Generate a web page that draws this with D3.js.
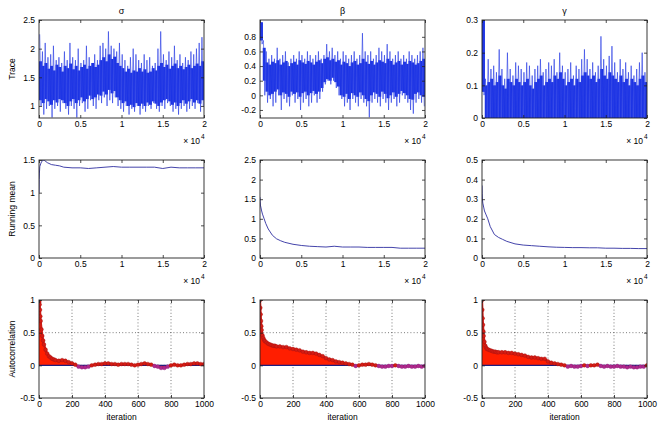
<!DOCTYPE html>
<html>
<head>
<meta charset="utf-8">
<script src="https://cdn.jsdelivr.net/npm/d3@7"></script>
<style>
  body { margin: 0; background: #fff; }
  svg text { font-family: "Liberation Sans", Arial, sans-serif; fill: #000; }
</style>
</head>
<body>
<svg id="chart"></svg>
<script>
const SVG = d3.select('#chart').attr('width', 660).attr('height', 424);

// --- data ---

const titles = ['σ', 'β', 'γ'];
const rowLabels = ['Trace', 'Running mean', 'Autocorrelation'];

// trace: per-bin spike extremes (60 bins over 20000 iterations)
const sigmaHi = [2.25,1.95,2.1,1.85,1.9,2.05,1.8,1.85,1.75,1.95,1.8,2.1,1.85,1.8,2.0,1.75,1.8,2.05,1.85,1.7,1.9,1.8,2.05,2.1,2.0,2.3,2.05,2.0,1.95,2.1,1.9,1.8,1.7,1.85,2.0,1.9,1.8,1.75,1.9,1.8,1.85,1.7,1.75,2.0,2.3,1.9,1.8,1.95,1.85,2.05,1.8,1.9,1.75,1.85,1.8,1.95,1.9,2.0,2.1,2.2];
const sigmaLo = [1.0,0.85,0.95,1.0,0.8,0.95,1.0,0.9,1.05,0.95,0.85,1.0,0.95,0.8,1.0,1.05,0.9,0.95,1.1,1.0,0.95,1.1,1.05,1.15,1.0,1.1,1.05,1.15,1.0,0.95,0.9,1.0,0.85,0.95,0.9,1.0,0.85,0.95,0.9,1.0,0.95,1.05,0.95,0.9,1.0,0.95,1.05,1.0,0.9,0.95,0.85,0.95,1.0,0.9,0.95,1.0,0.95,1.05,0.9,1.0];
const betaHi = [1.0,0.75,0.6,0.5,0.55,0.5,0.65,0.5,0.55,0.6,0.45,0.5,0.55,0.5,0.6,0.55,0.5,0.6,0.55,0.5,0.55,0.6,0.5,0.55,0.7,0.6,0.65,0.55,0.6,0.5,0.6,0.55,0.5,0.55,0.6,0.5,0.55,0.85,0.6,0.55,0.6,0.5,0.55,0.65,0.6,0.55,0.7,0.6,0.5,0.55,0.6,0.5,0.55,0.5,0.6,0.55,0.5,0.55,0.6,0.65];
const betaLo = [0.7,0.0,-0.1,-0.05,-0.15,-0.1,0.0,-0.2,-0.05,-0.1,-0.15,0.0,-0.1,-0.05,-0.2,-0.1,-0.05,-0.15,-0.1,0.0,-0.1,-0.05,0.05,0.15,0.2,0.15,0.2,0.1,0.0,-0.05,-0.15,-0.1,-0.2,-0.05,-0.1,-0.15,-0.05,-0.1,-0.15,-0.3,-0.1,-0.05,-0.1,-0.15,-0.05,-0.1,-0.2,-0.1,-0.05,-0.15,-0.1,0.0,-0.05,-0.1,-0.2,-0.25,-0.1,-0.05,-0.1,-0.15];
const gammaHi = [0.3,0.12,0.18,0.15,0.16,0.14,0.21,0.15,0.12,0.2,0.15,0.13,0.17,0.16,0.15,0.14,0.17,0.16,0.13,0.15,0.16,0.18,0.14,0.15,0.17,0.16,0.18,0.14,0.2,0.16,0.14,0.15,0.17,0.13,0.16,0.15,0.18,0.21,0.18,0.15,0.17,0.14,0.16,0.25,0.18,0.16,0.19,0.22,0.17,0.14,0.18,0.15,0.17,0.14,0.16,0.13,0.15,0.17,0.2,0.14];
const gammaLo = [0.07,0,0,0,0,0,0,0,0,0,0,0,0,0,0,0,0,0,0,0,0,0,0,0,0,0,0,0,0,0,0,0,0,0,0,0,0,0,0,0,0,0,0,0,0,0,0,0,0,0,0,0,0,0,0,0,0,0,0,0];

// trace: dense core band per bin (same 60 bins)
const sigmaCoreHi = [1.78,1.7,1.75,1.65,1.7,1.62,1.72,1.68,1.6,1.7,1.66,1.74,1.64,1.7,1.62,1.68,1.72,1.65,1.7,1.75,1.68,1.72,1.8,1.85,1.78,1.9,1.82,1.86,1.75,1.7,1.66,1.6,1.65,1.58,1.62,1.6,1.66,1.6,1.64,1.58,1.6,1.66,1.62,1.7,1.75,1.68,1.72,1.65,1.7,1.74,1.66,1.7,1.64,1.68,1.72,1.66,1.7,1.74,1.7,1.78];
const sigmaCoreLo = [1.1,1.05,1.12,1.08,1.02,1.1,1.06,1.12,1.1,1.05,1.0,1.08,1.12,1.05,1.1,1.15,1.08,1.12,1.18,1.12,1.15,1.2,1.18,1.25,1.2,1.28,1.22,1.26,1.15,1.1,1.05,1.08,1.0,1.02,0.98,1.05,1.0,1.04,1.0,1.06,1.02,1.08,1.04,1.0,1.06,1.1,1.12,1.08,1.02,1.06,1.0,1.05,1.1,1.04,1.08,1.12,1.06,1.1,1.04,1.1];
const betaCoreHi = [1.0,0.65,0.45,0.42,0.46,0.44,0.48,0.42,0.45,0.47,0.4,0.44,0.46,0.42,0.48,0.45,0.43,0.47,0.45,0.42,0.46,0.48,0.44,0.5,0.52,0.48,0.5,0.46,0.48,0.42,0.46,0.44,0.4,0.45,0.47,0.42,0.44,0.5,0.46,0.43,0.47,0.42,0.45,0.48,0.46,0.44,0.5,0.47,0.42,0.45,0.47,0.42,0.46,0.43,0.47,0.45,0.42,0.44,0.47,0.5];
const betaCoreLo = [0.75,0.2,0.05,0.0,0.02,0.05,0.08,0.0,0.04,0.02,-0.02,0.05,0.02,0.04,-0.02,0.03,0.05,0.0,0.03,0.06,0.02,0.05,0.1,0.18,0.22,0.2,0.24,0.18,0.12,0.0,-0.02,0.02,-0.05,0.03,0.0,-0.02,0.04,0.0,-0.05,-0.08,0.0,0.04,0.02,-0.02,0.05,0.02,-0.04,0.0,0.04,-0.02,0.02,0.06,0.03,0.0,-0.05,-0.06,0.02,0.04,0.0,-0.02];
const gammaCoreHi = [0.3,0.1,0.11,0.12,0.1,0.11,0.13,0.1,0.09,0.12,0.11,0.1,0.12,0.11,0.1,0.11,0.12,0.1,0.09,0.11,0.12,0.13,0.1,0.11,0.12,0.11,0.13,0.12,0.14,0.12,0.1,0.11,0.12,0.1,0.12,0.11,0.13,0.14,0.13,0.12,0.13,0.11,0.12,0.15,0.13,0.12,0.14,0.13,0.12,0.11,0.13,0.11,0.12,0.1,0.12,0.11,0.1,0.12,0.13,0.11];
const gammaCoreLo = [0.08,0,0,0,0,0,0,0,0,0,0,0,0,0,0,0,0,0,0,0,0,0,0,0,0,0,0,0,0,0,0,0,0,0,0,0,0,0,0,0,0,0,0,0,0,0,0,0,0,0,0,0,0,0,0,0,0,0,0,0];

// running mean
const meanIter = [0,20,50,100,200,300,500,700,1000,1500,2000,2500,3000,4000,5000,6000,7000,8000,9000,10000,11000,12000,13000,14000,15000,16000,17000,18000,19000,20000];
const sigmaMean = [1.0,1.2,1.3,1.4,1.44,1.47,1.5,1.49,1.46,1.43,1.42,1.41,1.39,1.38,1.38,1.37,1.38,1.39,1.40,1.39,1.39,1.39,1.39,1.39,1.37,1.39,1.38,1.38,1.38,1.38];
const betaMean = [1.55,1.45,1.35,1.3,1.2,1.12,1.0,0.88,0.74,0.58,0.49,0.44,0.4,0.35,0.32,0.3,0.29,0.28,0.3,0.28,0.28,0.28,0.27,0.27,0.27,0.27,0.25,0.25,0.25,0.25];
const gammaMean = [0.37,0.33,0.3,0.28,0.26,0.24,0.22,0.2,0.16,0.12,0.105,0.095,0.085,0.072,0.066,0.063,0.06,0.057,0.055,0.054,0.053,0.053,0.052,0.052,0.05,0.05,0.049,0.049,0.048,0.048];

// autocorrelation
const lags = [0,2,4,6,8,10,15,20,25,30,40,50,60,70,80,90,100,120,140,160,180,200,220,240,260,280,300,320,340,360,380,400,420,440,460,480,500,520,540,560,580,600,620,640,660,680,700,720,740,760,780,800,820,840,860,880,900,920,940,960,980,1000];
const sigmaAcf = [1.0,0.97,0.93,0.85,0.75,0.68,0.55,0.45,0.38,0.32,0.24,0.18,0.14,0.12,0.1,0.09,0.08,0.07,0.08,0.07,0.05,0.03,0.01,-0.02,-0.03,-0.03,-0.02,0.0,0.01,0.02,0.02,0.03,0.03,0.02,0.02,0.01,0.02,0.02,0.02,0.01,0.0,0.01,0.02,0.03,0.02,0.01,-0.01,-0.02,-0.04,-0.04,-0.02,0.0,0.01,0.0,0.0,0.01,0.02,0.02,0.03,0.03,0.02,0.02];
const betaAcf = [1.0,0.88,0.78,0.68,0.6,0.54,0.46,0.42,0.39,0.37,0.35,0.33,0.32,0.31,0.3,0.3,0.29,0.29,0.28,0.28,0.26,0.25,0.24,0.23,0.21,0.2,0.19,0.19,0.18,0.16,0.14,0.11,0.09,0.08,0.06,0.05,0.04,0.03,0.02,0.01,-0.01,0.0,0.01,0.01,0.02,0.01,0.0,-0.01,-0.02,-0.02,-0.01,-0.01,0.0,-0.01,-0.02,-0.02,-0.01,-0.02,-0.02,-0.01,-0.02,-0.01];
const gammaAcf = [1.0,0.85,0.72,0.62,0.52,0.45,0.36,0.3,0.27,0.25,0.24,0.23,0.22,0.21,0.21,0.2,0.2,0.2,0.2,0.19,0.19,0.18,0.17,0.16,0.15,0.13,0.12,0.12,0.11,0.1,0.1,0.06,0.04,0.03,0.02,0.01,0.0,-0.02,-0.01,-0.02,-0.02,-0.01,0.0,-0.01,0.0,0.0,0.01,-0.01,-0.02,-0.01,-0.02,-0.02,-0.01,-0.02,-0.02,-0.03,-0.02,-0.03,-0.03,-0.02,-0.02,0.0];

// ticks
const iterTicks = [0, 5000, 10000, 15000, 20000];
const lagTicks = [0, 200, 400, 600, 800, 1000];
const traceTicks = [[1, 1.5, 2, 2.5], [-0.2, 0, 0.2, 0.4, 0.6, 0.8], [0, 0.1, 0.2, 0.3]];
const meanTicks = [[0, 0.5, 1, 1.5], [0, 0.5, 1, 1.5, 2, 2.5], [0, 0.1, 0.2, 0.3, 0.4, 0.5]];
const acfTicks = [-0.5, 0, 0.5, 1];
const traceDomains = [[0.79, 2.5], [-0.31, 1.03], [0, 0.3]];
const meanDomains = [[0, 1.5], [0, 2.5], [0, 0.5]];

// ---

const COL_X = [39, 260, 482];
const ROW_Y = [20, 160, 300];
const PW = 165, PH = 98;
const FONT = 8.5;

const traces = [
  { hi: sigmaHi, lo: sigmaLo, coreHi: sigmaCoreHi, coreLo: sigmaCoreLo },
  { hi: betaHi, lo: betaLo, coreHi: betaCoreHi, coreLo: betaCoreLo },
  { hi: gammaHi, lo: gammaLo, coreHi: gammaCoreHi, coreLo: gammaCoreLo }
];
const means = [sigmaMean, betaMean, gammaMean];
const acfs = [sigmaAcf, betaAcf, gammaAcf];

let clipId = 0;

function makePanel(col, row, xDomain, yDomain, xTicks, yTicks, xFmt, grid) {
  const g = SVG.append('g').attr('transform', `translate(${COL_X[col]},${ROW_Y[row]})`);
  const x = d3.scaleLinear().domain(xDomain).range([0, PW]);
  const y = d3.scaleLinear().domain(yDomain).range([PH, 0]);

  const id = 'clip' + (clipId++);
  g.append('clipPath').attr('id', id).append('rect').attr('width', PW).attr('height', PH);

  if (grid) {
    const gg = g.append('g').attr('stroke', '#444').attr('stroke-width', 0.7)
      .attr('stroke-dasharray', '1,2.2');
    gg.selectAll('line.vx').data(xTicks.slice(1, -1)).join('line')
      .attr('x1', d => x(d)).attr('x2', d => x(d)).attr('y1', 0).attr('y2', PH);
    gg.selectAll('line.hy').data(yTicks.slice(1, -1)).join('line')
      .attr('y1', d => y(d)).attr('y2', d => y(d)).attr('x1', 0).attr('x2', PW);
  }

  const plot = g.append('g').attr('clip-path', `url(#${id})`);
  const axes = g.append('g');

  const bottom = d3.axisBottom(x).tickValues(xTicks).tickSizeInner(-3).tickSizeOuter(0)
    .tickPadding(3).tickFormat(xFmt);
  const left = d3.axisLeft(y).tickValues(yTicks).tickSizeInner(-3).tickSizeOuter(0)
    .tickPadding(4).tickFormat(d => String(d));
  const top = d3.axisTop(x).tickValues(xTicks).tickSizeInner(-3).tickSizeOuter(0).tickFormat('');
  const right = d3.axisRight(y).tickValues(yTicks).tickSizeInner(-3).tickSizeOuter(0).tickFormat('');

  const bG = axes.append('g').attr('transform', `translate(0,${PH})`).call(bottom);
  const lG = axes.append('g').call(left);
  const tG = axes.append('g').call(top);
  const rG = axes.append('g').attr('transform', `translate(${PW},0)`).call(right);
  [bG, lG, tG, rG].forEach(a => {
    a.select('.domain').remove();
    a.selectAll('line').attr('stroke', '#222').attr('stroke-width', 0.8);
    a.selectAll('text').attr('font-size', FONT).attr('font-family', '"Liberation Sans", Arial, sans-serif');
  });
  bG.selectAll('text').attr('dy', '0.75em');

  axes.append('rect').attr('width', PW).attr('height', PH)
    .attr('fill', 'none').attr('stroke', '#222').attr('stroke-width', 0.9);

  return { g, plot, x, y };
}

function expLabel(col, row) {
  const g = SVG.append('g');
  const bx = COL_X[col] + PW - 4;
  const by = ROW_Y[row] + PH + 26;
  g.append('text').attr('x', bx).attr('y', by).attr('text-anchor', 'end')
    .attr('font-size', FONT).text('× 10');
  g.append('text').attr('x', bx + 1).attr('y', by - 5).attr('font-size', 6.5).text('4');
}

const fmt1e4 = d => String(d / 10000);

// row 1: traces
traces.forEach((t, c) => {
  const p = makePanel(c, 0, [0, 20000], traceDomains[c], iterTicks, traceTicks[c], fmt1e4, false);
  const step = 20000 / t.hi.length;

  p.plot.selectAll('rect.core').data(t.coreHi).join('rect')
    .attr('x', (d, i) => p.x(i * step))
    .attr('width', p.x(step) - p.x(0) + 0.2)
    .attr('y', d => p.y(d))
    .attr('height', (d, i) => p.y(t.coreLo[i]) - p.y(d))
    .attr('fill', '#1b33e5');

  const zig = t.hi.flatMap((h, i) => [[(i + 0.25) * step, h], [(i + 0.75) * step, t.lo[i]]]);
  p.plot.append('path').datum(zig)
    .attr('d', d3.line().x(d => p.x(d[0])).y(d => p.y(d[1])))
    .attr('fill', 'none').attr('stroke', '#2b40e4').attr('stroke-width', 0.65);

  SVG.append('text').attr('x', COL_X[c] + PW / 2).attr('y', 14).attr('text-anchor', 'middle')
    .attr('font-size', 9).text(titles[c]);
  expLabel(c, 0);
});

// row 2: running mean
means.forEach((m, c) => {
  const p = makePanel(c, 1, [0, 20000], meanDomains[c], iterTicks, meanTicks[c], fmt1e4, false);
  p.plot.append('path').datum(m)
    .attr('d', d3.line().x((d, i) => p.x(meanIter[i])).y(d => p.y(d)))
    .attr('fill', 'none').attr('stroke', '#2f2fa0').attr('stroke-width', 0.9);
  expLabel(c, 1);
});

// row 3: autocorrelation
acfs.forEach((a, c) => {
  const p = makePanel(c, 2, [0, 1000], [-0.5, 1], lagTicks, acfTicks, d => String(d), true);
  p.plot.append('path').datum(a)
    .attr('d', d3.area().x((d, i) => p.x(lags[i])).y0(p.y(0)).y1(d => p.y(d)))
    .attr('fill', '#ff1e00');
  p.plot.append('line').attr('x1', 0).attr('x2', PW)
    .attr('y1', p.y(0)).attr('y2', p.y(0))
    .attr('stroke', '#1e1e80').attr('stroke-width', 1.3);
  p.plot.append('path').datum(a)
    .attr('d', d3.line().x((d, i) => p.x(lags[i])).y(d => p.y(d)))
    .attr('fill', 'none').attr('stroke', '#d01a12').attr('stroke-width', 2.2);
  p.plot.selectAll('circle').data(a).join('circle')
    .attr('cx', (d, i) => p.x(lags[i])).attr('cy', d => p.y(d)).attr('r', 1.9)
    .attr('fill', d => d < 0 ? '#b0288c' : '#d41c14')
    .attr('stroke', d => d < 0 ? '#8a2080' : '#a51010').attr('stroke-width', 0.4);
  SVG.append('text').attr('x', COL_X[c] + PW / 2).attr('y', ROW_Y[2] + PH + 22)
    .attr('text-anchor', 'middle').attr('font-size', FONT).text('iteration');
});

// row labels
rowLabels.forEach((t, r) => {
  SVG.append('text')
    .attr('transform', `translate(15,${ROW_Y[r] + PH / 2}) rotate(-90)`)
    .attr('text-anchor', 'middle').attr('font-size', FONT).text(t);
});
</script>
</body>
</html>
